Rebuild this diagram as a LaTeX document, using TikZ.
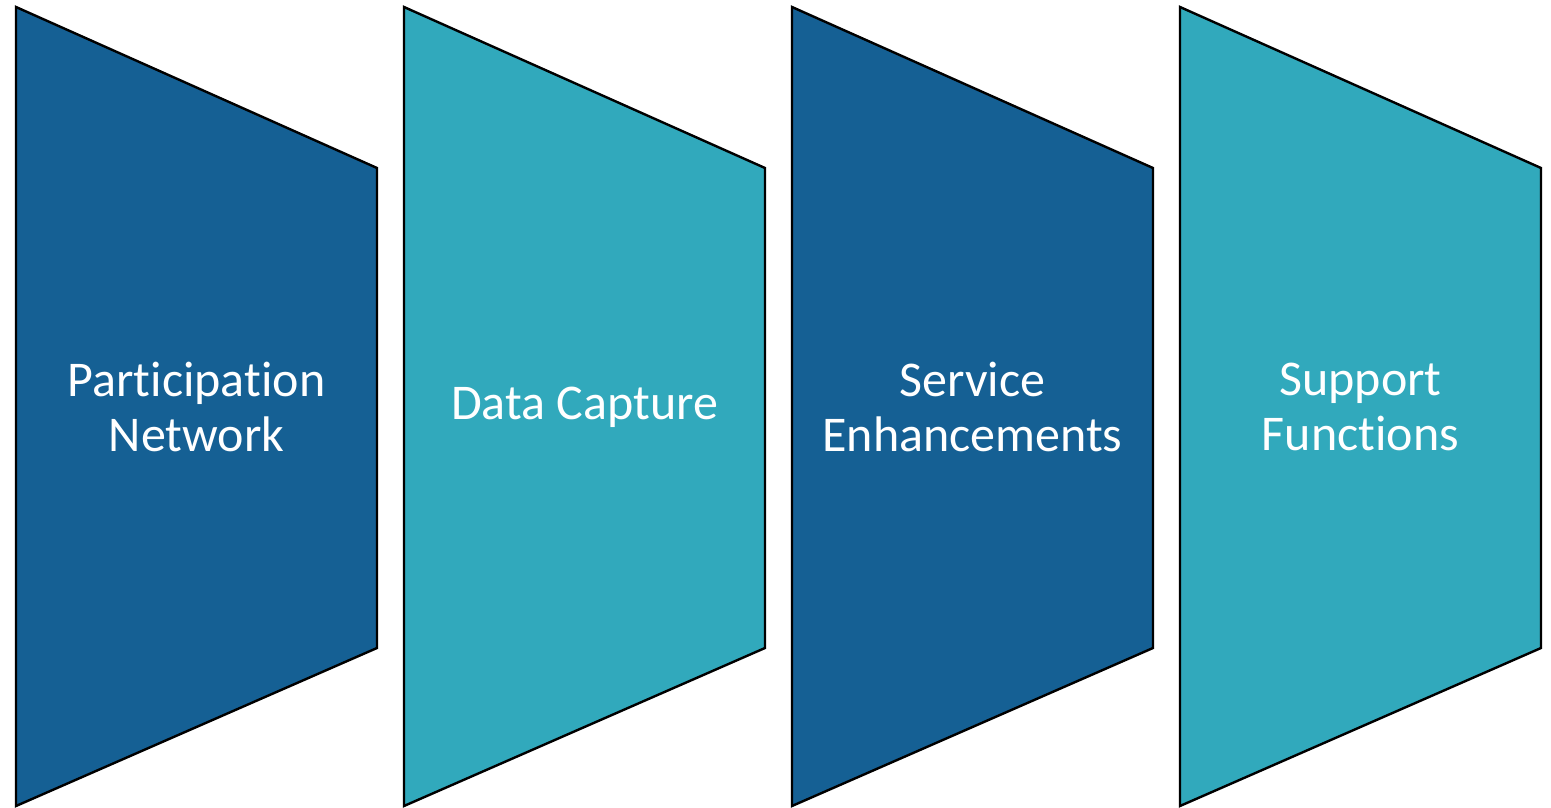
\documentclass[tikz,border=0pt]{standalone}
\usepackage{fontspec}
\setmainfont{Carlito}[Ligatures=NoCommon]
\definecolor{deepblue}{HTML}{156094}
\definecolor{tealblue}{HTML}{31A9BC}
\tikzset{
  panel/.style={draw=black, line width=2.4pt, line join=miter},
  panellabel/.style={text=white, align=center, font=\fontsize{50}{55}\selectfont}
}
\begin{document}
\begin{tikzpicture}[x=1pt, y=-1pt]
  \useasboundingbox (0,0) rectangle (1551,808);
  % four funnel-shaped panels, narrowing to the right
  \foreach \x/\c in {16/deepblue, 404/tealblue, 792/deepblue, 1180/tealblue}{
    \path[panel, fill=\c] (\x,7) -- (\x+361,168) -- (\x+361,648) -- (\x,806) -- cycle;
  }
  \node[panellabel] (p1) at (196.5,407) {Participation\\Network};
  \node[panellabel] (p2) at (584.5,407) {Data Capture};
  \node[panellabel] (p3) at (972.5,407) {Service\\Enhancements};
  \node[panellabel] (p4) at (1360.5,407) {Support\\Functions};
\end{tikzpicture}
\end{document}
